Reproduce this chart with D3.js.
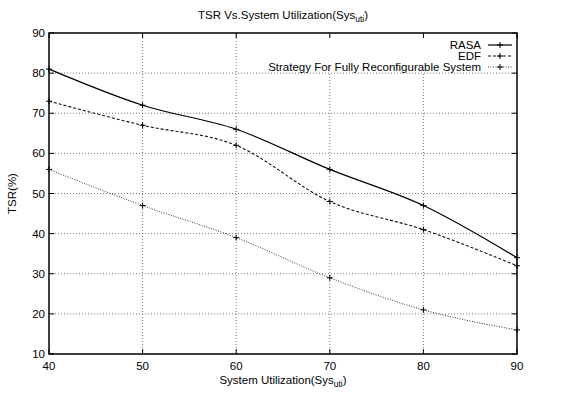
<!DOCTYPE html>
<html>
<head>
<meta charset="utf-8">
<script src="https://cdn.jsdelivr.net/npm/d3@7"></script>
<style>
  body { margin: 0; background: #fff; }
  svg { font-family: "Liberation Sans", Arial, sans-serif; }
</style>
</head>
<body>
<div id="chart"></div>
<script>
const utilization = [40, 50, 60, 70, 80, 90];
const rasa = [81, 72, 66, 56, 47, 34];
const edf = [73, 67, 62, 48, 41, 32];
const strategy = [56, 47, 39, 29, 21, 16];
const xTicks = [40, 50, 60, 70, 80, 90];
const yTicks = [10, 20, 30, 40, 50, 60, 70, 80, 90];

const width = 566, height = 394;
const margin = { top: 33, right: 49, bottom: 40, left: 49 };

const svg = d3.select("#chart").append("svg")
  .attr("width", width)
  .attr("height", height);

const x = d3.scaleLinear().domain([40, 90]).range([margin.left, width - margin.right]);
const y = d3.scaleLinear().domain([10, 90]).range([height - margin.bottom, margin.top]);

const series = [
  { name: "RASA", values: rasa, dash: null, width: 1.2, color: "#000" },
  { name: "EDF", values: edf, dash: "3,2", width: 1.1, color: "#111" },
  { name: "Strategy For Fully Reconfigurable System", values: strategy, dash: "1,1.5", width: 1, color: "#333" }
];

// grid
const grid = svg.append("g").attr("stroke", "#555").attr("stroke-width", 0.8).attr("stroke-dasharray", "1,2");
xTicks.slice(1, -1).forEach(t => {
  grid.append("line").attr("x1", x(t)).attr("x2", x(t)).attr("y1", y(10)).attr("y2", y(90));
});
yTicks.slice(1, -1).forEach(t => {
  grid.append("line").attr("x1", x(40)).attr("x2", x(90)).attr("y1", y(t)).attr("y2", y(t));
});

// white box behind the key
svg.append("rect")
  .attr("x", 298).attr("y", y(90) + 1)
  .attr("width", x(90) - 299).attr("height", 38)
  .attr("fill", "#fff");

// ticks (mirrored on all sides)
const ticks = svg.append("g").attr("stroke", "#000").attr("stroke-width", 1);
xTicks.forEach(t => {
  ticks.append("line").attr("x1", x(t)).attr("x2", x(t)).attr("y1", y(10)).attr("y2", y(10) - 5);
  ticks.append("line").attr("x1", x(t)).attr("x2", x(t)).attr("y1", y(90)).attr("y2", y(90) + 5);
});
yTicks.forEach(t => {
  ticks.append("line").attr("x1", x(40)).attr("x2", x(40) + 5).attr("y1", y(t)).attr("y2", y(t));
  ticks.append("line").attr("x1", x(90)).attr("x2", x(90) - 5).attr("y1", y(t)).attr("y2", y(t));
});

// frame
svg.append("rect")
  .attr("x", x(40)).attr("y", y(90))
  .attr("width", x(90) - x(40)).attr("height", y(10) - y(90))
  .attr("fill", "none").attr("stroke", "#000").attr("stroke-width", 1.5);

// tick labels
svg.append("g").selectAll("text").data(xTicks).join("text")
  .attr("x", d => x(d)).attr("y", y(10) + 16)
  .attr("text-anchor", "middle").attr("font-size", 11.5)
  .text(d => d);
svg.append("g").selectAll("text").data(yTicks).join("text")
  .attr("x", x(40) - 4).attr("y", d => y(d) + 4)
  .attr("text-anchor", "end").attr("font-size", 11.5)
  .text(d => d);

// lines
const line = d3.line()
  .x((d, i) => x(utilization[i]))
  .y(d => y(d))
  .curve(d3.curveMonotoneX);

function plus(g, cx, cy) {
  g.append("path")
    .attr("d", `M${cx - 3},${cy}H${cx + 3}M${cx},${cy - 3}V${cy + 3}`)
    .attr("stroke", "#000").attr("stroke-width", 1);
}

series.forEach(s => {
  svg.append("path")
    .attr("d", line(s.values))
    .attr("fill", "none")
    .attr("stroke", s.color)
    .attr("stroke-width", s.width)
    .attr("stroke-dasharray", s.dash);
  const g = svg.append("g");
  s.values.forEach((v, i) => plus(g, x(utilization[i]), y(v)));
});

// legend
const legend = svg.append("g");
series.forEach((s, i) => {
  const ly = 45 + i * 11;
  legend.append("text")
    .attr("x", 481).attr("y", ly + 4)
    .attr("text-anchor", "end").attr("font-size", 11.5)
    .text(s.name);
  legend.append("line")
    .attr("x1", 488).attr("x2", 512).attr("y1", ly).attr("y2", ly)
    .attr("stroke", s.color).attr("stroke-width", s.width)
    .attr("stroke-dasharray", s.dash);
  plus(legend, 500, ly);
});

// title
const title = svg.append("text")
  .attr("x", width / 2).attr("y", 19)
  .attr("text-anchor", "middle").attr("font-size", 11.5);
title.append("tspan").text("TSR Vs.System Utilization(Sys");
title.append("tspan").attr("font-size", 8.5).attr("dy", 3).text("uti");
title.append("tspan").attr("dy", -3).text(")");

// axis labels
const xl = svg.append("text")
  .attr("x", x(65)).attr("y", height - 10)
  .attr("text-anchor", "middle").attr("font-size", 11.5);
xl.append("tspan").text("System Utilization(Sys");
xl.append("tspan").attr("font-size", 8.5).attr("dy", 3).text("uti");
xl.append("tspan").attr("dy", -3).text(")");

svg.append("text")
  .attr("transform", `translate(16,${(y(10) + y(90)) / 2}) rotate(-90)`)
  .attr("text-anchor", "middle").attr("font-size", 11.5)
  .text("TSR(%)");
</script>
</body>
</html>
